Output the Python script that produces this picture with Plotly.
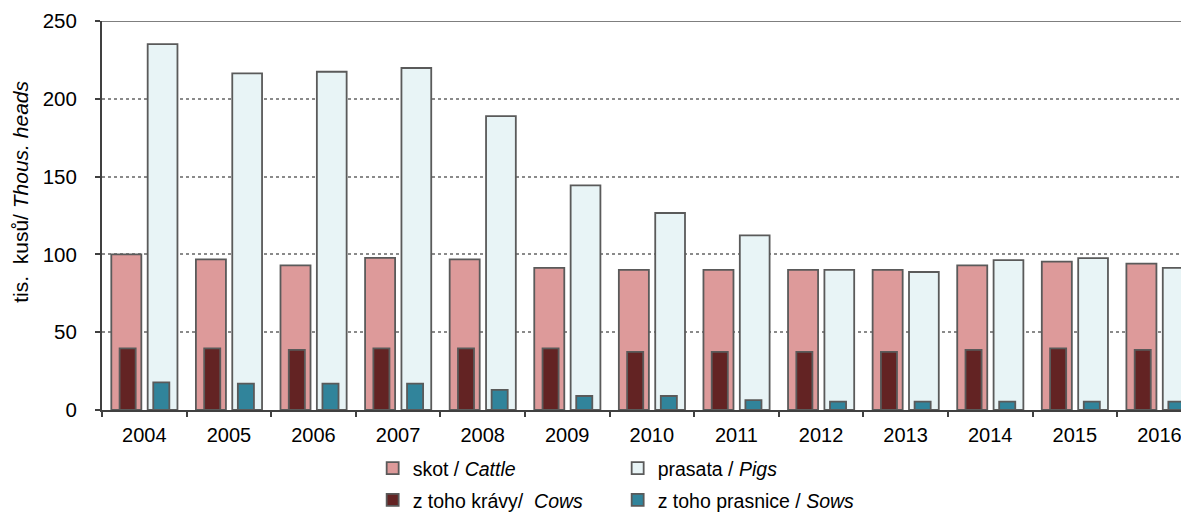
import plotly.graph_objects as go

years = ["2004", "2005", "2006", "2007", "2008", "2009", "2010",
         "2011", "2012", "2013", "2014", "2015", "2016"]
cattle = [100.0, 96.8, 92.9, 97.8, 96.8, 91.4, 90.1, 90.1, 90.0, 90.0, 92.9, 95.4, 94.1]
pigs = [235.2, 216.3, 217.4, 219.8, 188.9, 144.4, 126.6, 112.2, 90.0, 88.7, 96.3, 97.6, 91.3]
cows = [39.6, 39.6, 38.6, 39.6, 39.6, 39.6, 37.3, 37.3, 37.3, 37.3, 38.6, 39.6, 38.6]
sows = [17.8, 16.9, 16.9, 16.9, 12.9, 9.0, 9.0, 6.4, 5.4, 5.4, 5.4, 5.4, 5.4]

names = ["skot / <i>Cattle</i>", "prasata / <i>Pigs</i>",
         "z toho krávy/  <i>Cows</i>", "z toho prasnice / <i>Sows</i>"]
ytitle = "tis.  kusů/ <i>Thous. heads</i>"

OUT = "#5a5a5a"
FONT = "Liberation Sans, Arial, sans-serif"
FS = 19.5

fig = go.Figure()
fig.add_trace(go.Bar(x=years, y=cattle, name=names[0], width=0.355, offset=-0.39,
                     marker=dict(color="#DD9A9A", line=dict(color=OUT, width=1.8)),
                     legend="legend"))
fig.add_trace(go.Bar(x=years, y=pigs, name=names[1], width=0.352, offset=0.04,
                     marker=dict(color="#E8F4F6", line=dict(color=OUT, width=1.8)),
                     legend="legend"))
fig.add_trace(go.Bar(x=years, y=cows, name=names[2], width=0.19, offset=-0.292,
                     marker=dict(color="#632323", line=dict(color=OUT, width=1.8)),
                     legend="legend2"))
fig.add_trace(go.Bar(x=years, y=sows, name=names[3], width=0.19, offset=0.106,
                     marker=dict(color="#31849B", line=dict(color=OUT, width=1.8)),
                     legend="legend2"))

leg_common = dict(orientation="h", xanchor="left", yanchor="top",
                  font=dict(family=FONT, size=FS, color="#000"),
                  entrywidth=200, entrywidthmode="pixels",
                  bgcolor="rgba(0,0,0,0)", itemclick=False)

# page body has an 8px margin; figure sized to fit the 1189x512 window
fig.update_layout(
    width=1181, height=504,
    margin=dict(l=94, r=0, t=13, b=101.5, autoexpand=False),
    paper_bgcolor="white", plot_bgcolor="white",
    barmode="overlay",
    font=dict(family=FONT, size=FS, color="#000"),
    showlegend=True,
    legend=dict(x=0.249, y=-0.10, **leg_common),
    legend2=dict(x=0.249, y=-0.182, **leg_common),
    xaxis=dict(type="category", range=[-0.5, 12.35], automargin=False,
               showline=True, linecolor="#404040", linewidth=2,
               ticks="outside", tickson="boundaries", ticklen=5, tickcolor="#404040",
               tickwidth=2, showgrid=False, tickfont=dict(size=20, family=FONT),
               ticklabelstandoff=6),
    yaxis=dict(range=[0, 250], dtick=50, showline=True, linecolor="#404040", linewidth=2,
               automargin=False,
               ticks="outside", ticklen=5, tickcolor="#404040", tickwidth=2,
               showgrid=True, gridcolor="#8a8a8a", griddash="dot", gridwidth=1.5,
               zeroline=False, tickfont=dict(size=20.5, family=FONT),
               ticklabelstandoff=14),
    annotations=[dict(text=ytitle, textangle=-90, xref="paper", yref="paper",
                      x=-0.0745, y=0.561, xanchor="center", yanchor="middle",
                      showarrow=False, font=dict(size=21, family=FONT, color="#000"))],
    shapes=[dict(type="line", xref="paper", yref="y", x0=0, x1=1, y0=250, y1=250,
                 line=dict(color="#555555", width=1.5), layer="above")],
)

fig.write_html("out.html")
